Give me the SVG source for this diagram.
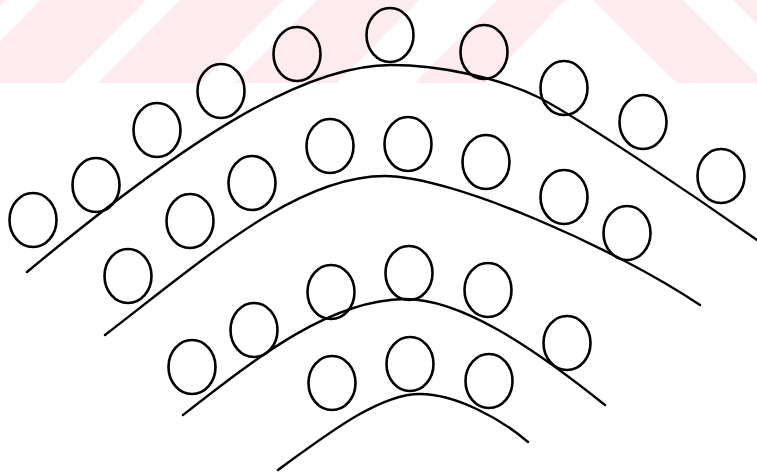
<svg xmlns="http://www.w3.org/2000/svg" width="757" height="472" viewBox="0 0 757 472">
<style>
.wm{fill:#fdebee;stroke:none}
.curve{fill:none;stroke:#000;stroke-width:2.4;stroke-linecap:round}
.p{fill:none;stroke:#000;stroke-width:2.6}
</style>
<rect width="757" height="472" fill="#fff"/>
<g id="watermark">
<polygon class="wm" points="0,0 6,0 0,6"/>
<polygon class="wm" points="40,0 146,0 64,83 0,83 0,42"/>
<polygon class="wm" points="180,0 283,0 201,83 98,83"/>
<polygon class="wm" points="317,0 419,0 337,83 235,83"/>
<polygon class="wm" points="497,0 565,0 486,83 415,83"/>
<polygon class="wm" points="593,0 683,0 757,74 757,83 677,83"/>
<polygon class="wm" points="733,0 757,0 757,24"/>
</g>
<g id="curves">
<path class="curve" d="M27,272 C180,145 300,65 391,65 C440,65 500,78 540,98 C590,125 700,200 757,240"/>
<path class="curve" d="M105,335 C215,250 300,176 385,176 C450,176 610,245 700,305"/>
<path class="curve" d="M183,415 C260,355 330,300 405,299 C460,299 530,345 605,405"/>
<path class="curve" d="M278,470 C330,432 380,394 420,394 C455,394 500,418 528,442"/>
</g>
<g id="row1">
<ellipse class="p" cx="33" cy="220" rx="23.5" ry="27"/>
<ellipse class="p" cx="96" cy="185" rx="23.5" ry="27"/>
<ellipse class="p" cx="157" cy="130" rx="23.5" ry="27"/>
<ellipse class="p" cx="221" cy="91" rx="23.5" ry="27"/>
<ellipse class="p" cx="297" cy="54" rx="23.5" ry="27"/>
<ellipse class="p" cx="390" cy="35" rx="23.5" ry="27"/>
<ellipse class="p" cx="484" cy="52" rx="23.5" ry="27"/>
<ellipse class="p" cx="564" cy="88" rx="23.5" ry="27"/>
<ellipse class="p" cx="643" cy="122" rx="23.5" ry="27"/>
<ellipse class="p" cx="721" cy="176" rx="23.5" ry="27"/>
</g>
<g id="row2">
<ellipse class="p" cx="128" cy="276" rx="23.5" ry="27"/>
<ellipse class="p" cx="190" cy="221" rx="23.5" ry="27"/>
<ellipse class="p" cx="252" cy="183" rx="23.5" ry="27"/>
<ellipse class="p" cx="330" cy="146" rx="23.5" ry="27"/>
<ellipse class="p" cx="408" cy="144" rx="23.5" ry="27"/>
<ellipse class="p" cx="486" cy="162" rx="23.5" ry="27"/>
<ellipse class="p" cx="564" cy="197" rx="23.5" ry="27"/>
<ellipse class="p" cx="627" cy="233" rx="23.5" ry="27"/>
</g>
<g id="row3">
<ellipse class="p" cx="192" cy="367" rx="23.5" ry="27"/>
<ellipse class="p" cx="254" cy="330" rx="23.5" ry="27"/>
<ellipse class="p" cx="331" cy="292" rx="23.5" ry="27"/>
<ellipse class="p" cx="409" cy="273" rx="23.5" ry="27"/>
<ellipse class="p" cx="488" cy="290" rx="23.5" ry="27"/>
<ellipse class="p" cx="567" cy="343" rx="23.5" ry="27"/>
</g>
<g id="row4">
<ellipse class="p" cx="332" cy="383" rx="23.5" ry="27"/>
<ellipse class="p" cx="410" cy="364" rx="23.5" ry="27"/>
<ellipse class="p" cx="489" cy="381" rx="23.5" ry="27"/>
</g>
</svg>
